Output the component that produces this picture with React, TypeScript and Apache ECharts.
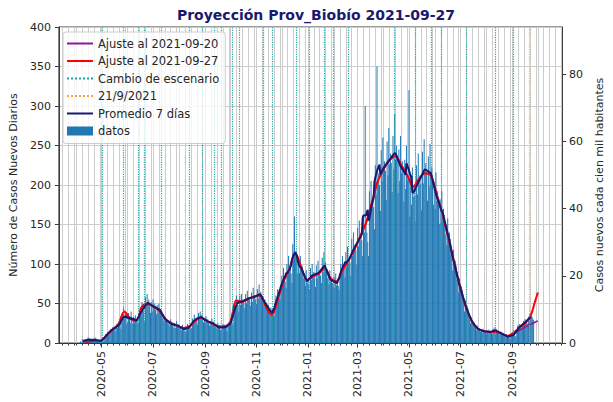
import { useEffect, useRef } from 'react';
import * as echarts from 'echarts';

// ---------------- data ----------------
const FIRST_DAY = '2020-04-06'; // first daily bar
// daily new cases, one row per week (Mon..Sun)
const dailyCases: number[] = [
  2, 0, 5, 3, 1, 4, 2,
  5, 3, 7, 2, 6, 3, 2,
  3, 6, 4, 2, 7, 4, 2,
  2, 4, 3, 1, 5, 3, 2,
  6, 9, 11, 8, 13, 12, 11,
  14, 18, 16, 20, 17, 19, 15,
  20, 24, 19, 26, 22, 25, 18,
  34, 28, 45, 31, 38, 36, 24,
  27, 38, 33, 25, 40, 30, 24,
  33, 26, 35, 28, 30, 25, 26,
  34, 45, 38, 52, 44, 40, 27,
  58, 46, 62, 50, 55, 48, 38,
  52, 40, 55, 47, 50, 42, 36,
  48, 38, 50, 44, 43, 39, 32,
  36, 28, 34, 31, 30, 27, 24,
  27, 22, 30, 24, 25, 21, 19,
  25, 19, 28, 21, 24, 20, 17,
  21, 16, 23, 18, 19, 15, 14,
  17, 24, 19, 22, 21, 18, 19,
  31, 26, 36, 28, 32, 27, 23,
  38, 30, 40, 32, 36, 29, 26,
  32, 25, 34, 27, 30, 26, 22,
  28, 22, 31, 24, 27, 23, 20,
  23, 18, 25, 19, 22, 17, 16,
  18, 24, 20, 23, 19, 21, 15,
  20, 26, 24, 30, 27, 25, 23,
  40, 52, 46, 60, 50, 48, 40,
  60, 48, 62, 52, 55, 50, 44,
  62, 50, 66, 55, 58, 54, 47,
  64, 52, 70, 56, 60, 55, 49,
  68, 56, 74, 60, 65, 58, 53,
  58, 46, 55, 50, 48, 45, 48,
  42, 34, 45, 36, 40, 35, 34,
  48, 60, 55, 68, 62, 58, 55,
  72, 85, 78, 95, 82, 78, 70,
  100, 85, 110, 90, 95, 88, 76,
  125, 105, 160, 112, 115, 100, 88,
  105, 88, 110, 92, 98, 90, 82,
  85, 72, 92, 76, 80, 74, 67,
  95, 80, 100, 84, 90, 82, 71,
  98, 82, 104, 86, 92, 85, 76,
  108, 90, 115, 95, 102, 94, 82,
  88, 74, 92, 78, 82, 76, 70,
  84, 70, 88, 73, 78, 72, 67,
  88, 100, 92, 110, 98, 94, 83,
  115, 96, 122, 100, 108, 102, 85,
  132, 110, 140, 116, 125, 118, 99,
  146, 122, 155, 130, 138, 130, 110,
  162, 140, 300, 150, 140, 128, 110,
  192, 160, 205, 170, 182, 172, 144,
  225, 188, 350, 200, 215, 200, 167,
  244, 205, 260, 216, 230, 218, 181,
  255, 212, 272, 226, 240, 228, 191,
  262, 220, 290, 232, 250, 236, 190,
  245, 205, 262, 215, 230, 218, 179,
  232, 195, 250, 206, 210, 320, 160,
  210, 175, 222, 185, 198, 186, 154,
  225, 188, 240, 200, 212, 202, 168,
  242, 202, 258, 214, 228, 216, 180,
  236, 198, 252, 210, 222, 212, 175,
  204, 170, 216, 180, 192, 182, 151,
  182, 152, 192, 160, 170, 162, 137,
  150, 124, 158, 130, 140, 132, 111,
  112, 92, 118, 96, 104, 98, 80,
  78, 64, 82, 68, 72, 68, 58,
  52, 40, 54, 44, 47, 44, 35,
  30, 25, 33, 26, 28, 26, 21,
  20, 16, 22, 17, 19, 16, 14,
  17, 13, 18, 14, 16, 14, 12,
  16, 12, 17, 13, 15, 13, 11,
  18, 14, 20, 16, 17, 15, 12,
  14, 10, 15, 11, 13, 11, 9,
  10, 7, 11, 8, 9, 7, 5,
  8, 12, 10, 13, 11, 9, 8,
  16, 22, 19, 24, 21, 20, 18,
  23, 28, 25, 30, 27, 26, 24,
  30, 36, 32, 38, 34, 31, 29,
];

// fitted curves, one value per week (Thursdays) starting at FIT_FIRST_DAY
const FIT_FIRST_DAY = '2020-04-09';
const fit0927Weekly: number[] = [
  2, 2, 3, 3, 10, 17, 24, 40, 31, 28,
  46, 50, 46, 40, 30, 25, 22, 19, 21, 28,
  32, 28, 24, 21, 21, 27, 54, 52, 56, 59,
  60, 46, 35, 55, 78, 94, 114, 96, 80, 84,
  88, 95, 82, 78, 92, 104, 118, 135, 152, 178,
  205, 220, 232, 236, 225, 212, 198, 208, 215, 212,
  188, 162, 132, 100, 70, 44, 27, 18, 15, 14,
  14, 12, 9, 13, 19, 25, 36,
];
const fitExtraDates = ['2021-09-27', '2021-10-01'];
const fit0927Extra = [50, 64];
// the 2021-09-20 fit coincides with the other up to week 72, then:
const fit0920SharedWeeks = 73;
const fit0920TailWeekly = [11, 16, 20, 24];
const fit0920Extra = [26, 28];

const scenarioDates = [
  '2020-05-02', '2020-05-27', '2020-06-14', '2020-06-21', '2020-07-11',
  '2020-08-13', '2020-08-28', '2020-09-12', '2020-09-20', '2020-10-03',
  '2020-10-11', '2020-11-09', '2020-11-20', '2020-12-18', '2021-01-02',
  '2021-01-20', '2021-01-31', '2021-02-18', '2021-04-14', '2021-05-08',
  '2021-05-27', '2021-06-08', '2021-07-08', '2021-08-11', '2021-09-02',
];
const projectionDate = '2021-09-21';

const monthLabels = [
  '2020-05', '2020-07', '2020-09', '2020-11', '2021-01', '2021-03',
  '2021-05', '2021-07', '2021-09',
];
const rightTicks = [0, 20, 40, 60, 80];
const POPULATION = 425000;

// ---------------- helpers ----------------
const ts = (s: string, addDays = 0, hours = 0) => {
  const [y, m, d] = s.split('-').map(Number);
  return new Date(y, m - 1, (d || 1) + addDays, hours).getTime();
};
const fmtMonth = (v: number) => {
  const d = new Date(v);
  return `${d.getFullYear()}-${String(d.getMonth() + 1).padStart(2, '0')}`;
};

const X_MIN = ts('2020-03-11', 0, 6);
const X_MAX = ts('2021-10-29', 0, 20);

const FONT = 'DejaVu Sans';
const TEXT = '#262626';
const AXIS = '#3a3a3a';
const GRID = '#cccccc';
const TEAL = '#1fa3a3';
const ORANGE = '#ffa040';
const NO_SYMBOL = { color: 'transparent', borderColor: 'transparent', borderWidth: 0, opacity: 0 };

export default function App() {
  const ref = useRef<HTMLDivElement>(null);

  useEffect(() => {
    if (!ref.current) return;
    const chart = echarts.init(ref.current, undefined, { renderer: 'svg' });

    const barData = dailyCases.map((v, i) => [ts(FIRST_DAY, i), v]);
    const avgData: number[][] = [];
    for (let i = 3; i < dailyCases.length - 3; i++) {
      let s = 0;
      for (let j = i - 3; j <= i + 3; j++) s += dailyCases[j];
      avgData.push([ts(FIRST_DAY, i), s / 7]);
    }
    const redData = fit0927Weekly
      .map((v, k) => [ts(FIT_FIRST_DAY, 7 * k), v])
      .concat(fit0927Extra.map((v, k) => [ts(fitExtraDates[k]), v]));
    const purpleWeekly = fit0927Weekly.slice(0, fit0920SharedWeeks).concat(fit0920TailWeekly);
    const purpleData = purpleWeekly
      .map((v, k) => [ts(FIT_FIRST_DAY, 7 * k), v])
      .concat(fit0920Extra.map((v, k) => [ts(fitExtraDates[k]), v]));

    // minor ticks / vertical grid on days 1, 8, 15, 22, 29
    const weekTicks: number[] = [];
    for (let y = 2020; y <= 2021; y++) {
      for (let m = 0; m < 12; m++) {
        for (const d of [1, 8, 15, 22, 29]) {
          const t = new Date(y, m, d).getTime();
          if (t > X_MIN && t < X_MAX) weekTicks.push(t);
        }
      }
    }
    const monthTicks = monthLabels.map((s) => ts(s));

    const option: any = {
      animation: false,
      backgroundColor: '#ffffff',
      textStyle: { fontFamily: FONT },
      grid: {
        left: 57, right: 38, top: 27, bottom: 59,
        show: true, borderColor: AXIS, borderWidth: 1, backgroundColor: 'transparent',
      },
      graphic: [
        {
          type: 'text', x: 316, y: 15, z: 20,
          style: {
            text: 'Proyección Prov_Biobío 2021-09-27',
            fill: '#191970',
            font: `bold 14px "${FONT}"`,
            align: 'center', verticalAlign: 'middle',
          },
        },
      ],
      legend: {
        orient: 'vertical', left: 63, top: 32,
        padding: [5, 6, 6, 3],
        itemWidth: 26, itemHeight: 9, itemGap: 4.5,
        backgroundColor: 'rgba(255,255,255,0.8)',
        borderColor: '#cccccc', borderWidth: 1, borderRadius: 3,
        selectedMode: false, z: 10,
        textStyle: { fontSize: 11.5, color: TEXT, fontFamily: FONT, lineHeight: 13 },
        data: [
          { name: 'Ajuste al 2021-09-20', itemStyle: NO_SYMBOL },
          { name: 'Ajuste al 2021-09-27', itemStyle: NO_SYMBOL },
          { name: 'Cambio de escenario', itemStyle: NO_SYMBOL },
          { name: '21/9/2021', itemStyle: NO_SYMBOL },
          { name: 'Promedio 7 días', itemStyle: NO_SYMBOL },
          { name: 'datos', icon: 'rect' },
        ],
      },
      xAxis: [
        {
          type: 'value', min: X_MIN, max: X_MAX,
          axisLine: { show: true, onZero: false, lineStyle: { color: AXIS } },
          axisTick: { show: true, customValues: weekTicks, length: 2.5, lineStyle: { color: AXIS } },
          axisLabel: {
            customValues: monthTicks, rotate: 90, margin: 8, fontSize: 11, color: TEXT,
            fontFamily: FONT, formatter: (v: number) => fmtMonth(v),
          },
          splitLine: { show: true, lineStyle: { color: GRID, width: 1 } },
        },
        {
          type: 'value', min: X_MIN, max: X_MAX, position: 'bottom',
          axisLine: { show: false, onZero: false },
          axisTick: { show: true, customValues: monthTicks, length: 4.5, lineStyle: { color: AXIS } },
          axisLabel: { show: false },
          splitLine: { show: false },
        },
      ],
      yAxis: [
        {
          type: 'value', min: 0, max: 400, interval: 50,
          name: 'Número de Casos Nuevos Diarios', nameLocation: 'middle', nameGap: 37,
          nameTextStyle: { fontSize: 11, color: TEXT, fontFamily: FONT },
          axisLine: { show: true, lineStyle: { color: AXIS } },
          axisTick: { show: true, length: 4, lineStyle: { color: AXIS } },
          axisLabel: { fontSize: 11, color: TEXT, margin: 8, fontFamily: FONT },
          splitLine: { show: true, lineStyle: { color: GRID, width: 1 } },
        },
        {
          type: 'value', position: 'right', min: 0, max: (400 * 100000) / POPULATION,
          name: 'Casos nuevos cada cien mil habitantes', nameLocation: 'middle', nameGap: 23,
          nameTextStyle: { fontSize: 11, color: TEXT, fontFamily: FONT },
          axisLine: { show: true, lineStyle: { color: AXIS } },
          axisTick: { show: true, length: 4, customValues: rightTicks, lineStyle: { color: AXIS } },
          axisLabel: { fontSize: 11, color: TEXT, margin: 7, fontFamily: FONT, customValues: rightTicks },
          splitLine: { show: false },
        },
      ],
      series: [
        {
          name: 'datos', type: 'bar', data: barData, barWidth: 0.8, z: 1,
          itemStyle: { color: '#1f77b4' },
          emphasis: { disabled: true },
        },
        {
          name: 'Cambio de escenario', type: 'line', data: [], symbol: 'none', z: 2,
          lineStyle: { color: TEAL, width: 1.5, type: 'dotted' },
          itemStyle: { color: TEAL },
          markLine: {
            silent: true, symbol: ['none', 'none'], label: { show: false },
            emphasis: { disabled: true },
            lineStyle: { color: TEAL, width: 1.2, type: 'dotted' },
            data: scenarioDates.map((d) => ({ xAxis: ts(d) })),
          },
        },
        {
          name: '21/9/2021', type: 'line', data: [], symbol: 'none', z: 2,
          lineStyle: { color: ORANGE, width: 1.5, type: 'dotted' },
          itemStyle: { color: ORANGE },
          markLine: {
            silent: true, symbol: ['none', 'none'], label: { show: false },
            emphasis: { disabled: true },
            lineStyle: { color: ORANGE, width: 1.2, type: 'dotted' },
            data: [{ xAxis: ts(projectionDate) }],
          },
        },
        {
          name: 'Ajuste al 2021-09-20', type: 'line', data: purpleData, symbol: 'none', z: 3,
          smooth: 0.3,
          lineStyle: { color: '#8b1a9b', width: 1.5 }, itemStyle: { color: '#8b1a9b' },
        },
        {
          name: 'Ajuste al 2021-09-27', type: 'line', data: redData, symbol: 'none', z: 4,
          smooth: 0.3,
          lineStyle: { color: '#ff0000', width: 2 }, itemStyle: { color: '#ff0000' },
        },
        {
          name: 'Promedio 7 días', type: 'line', data: avgData, symbol: 'none', z: 5,
          lineStyle: { color: '#191970', width: 2 }, itemStyle: { color: '#191970' },
        },
      ],
    };

    chart.setOption(option);
    return () => chart.dispose();
  }, []);

  return (
    <div
      ref={ref}
      style={{ position: 'fixed', left: 0, top: 0, width: 613, height: 402, background: '#fff' }}
    />
  );
}
